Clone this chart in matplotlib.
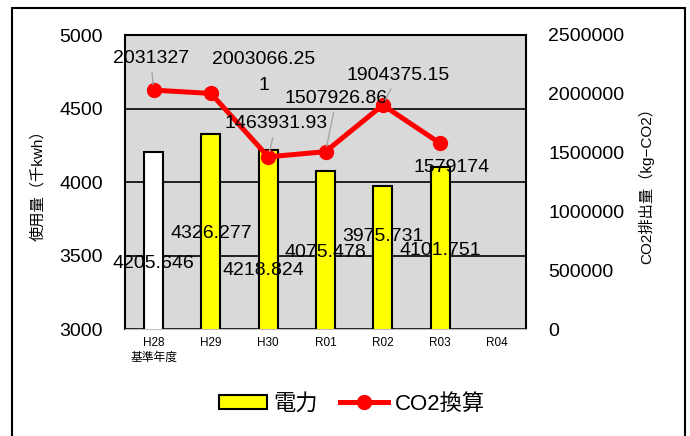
import matplotlib.pyplot as plt
from matplotlib.patches import Rectangle

plt.rcParams['font.family'] = ['Liberation Sans', 'Noto Sans CJK JP']

categories = ['H28\n基準年度', 'H29', 'H30', 'R01', 'R02', 'R03', 'R04']
power = [4205.646, 4326.277, 4218.824, 4075.478, 3975.731, 4101.751]
co2 = [2031327, 2003066.251, 1463931.93, 1507926.86, 1904375.15, 1579174]
power_labels = ['4205.646', '4326.277', '4218.824', '4075.478', '3975.731', '4101.751']
co2_labels = ['2031327', '2003066.25\n1', '1463931.93', '1507926.86', '1904375.15', '1579174']
bar_colors = ['white', 'yellow', 'yellow', 'yellow', 'yellow', 'yellow']

# label offsets in pixels (dx, dy) relative to the mark
power_off = [(0, -112), (0, -99), (-5, -121), (0, -82), (0, -51), (0, -83)]
co2_off = [(-3, 32), (53, 21), (8, 33), (11, 53), (15, 30), (11, -24)]
co2_leader = [True, False, True, True, True, False]

fig = plt.figure(figsize=(6.9, 4.36), dpi=100)
fig.patches.append(Rectangle((12/690, -0.05), 673/690, 1.05 - 8/436,
                             transform=fig.transFigure, fill=False,
                             edgecolor='black', lw=1.5))

ax = fig.add_axes([125/690, 107/436, 401/690, 294/436])
ax.set_facecolor('#D9D9D9')
x = list(range(len(categories)))
ax.bar(x[:len(power)], power, width=0.33, color=bar_colors,
       edgecolor='black', linewidth=1.5, zorder=3, label='電力')
ax.set_ylim(3000, 5000)
ax.set_xlim(-0.5, len(categories) - 0.5)
ax.set_yticks([3000, 3500, 4000, 4500, 5000])
ax.yaxis.grid(True, color='black', lw=1.2, zorder=0)
ax.set_axisbelow(True)
ax.set_xticks(x)
ax.set_xticklabels(categories, fontsize=8.5, linespacing=1.3)
ax.tick_params(axis='y', length=0, pad=16, labelsize=14)
ax.tick_params(axis='x', length=0, pad=6)
ax.set_ylabel('使用量（千kwh）', fontsize=11, labelpad=10)
for s in ['left', 'top', 'right']:
    ax.spines[s].set_color('black')
    ax.spines[s].set_linewidth(1.5)
ax.spines['bottom'].set_color('#BFBFBF')

ax2 = ax.twinx()
ax2.plot(x[:len(co2)], co2, color='red', lw=3.6, marker='o', markersize=10,
         zorder=5, label='CO2換算')
ax2.set_ylim(0, 2500000)
ax2.set_yticks([0, 500000, 1000000, 1500000, 2000000, 2500000])
ax2.set_yticklabels(['0', '500000', '1000000', '1500000', '2000000', '2500000'])
ax2.tick_params(axis='y', length=0, pad=16, labelsize=14)
ax2.set_ylabel('CO2排出量（kg−CO2）', fontsize=11, labelpad=10)
for s in ax2.spines.values():
    s.set_visible(False)

for i, v in enumerate(power):
    ax.annotate(power_labels[i], (x[i], v), xytext=power_off[i],
                textcoords='offset pixels', ha='center', va='center',
                fontsize=14, zorder=6)

for i, v in enumerate(co2):
    props = dict(arrowstyle='-', color='#A6A6A6', lw=1,
                 shrinkA=2, shrinkB=4) if co2_leader[i] else None
    ax2.annotate(co2_labels[i], (x[i], v), xytext=co2_off[i],
                 textcoords='offset pixels', ha='center', va='center',
                 fontsize=14, linespacing=1.75, arrowprops=props, zorder=6)

h1, l1 = ax.get_legend_handles_labels()
h2, l2 = ax2.get_legend_handles_labels()
leg = fig.legend(h1 + h2, l1 + l2, loc='center',
                 bbox_to_anchor=(352/690, 1 - 404/436), ncol=2, frameon=False,
                 fontsize=16, handlelength=2.16, handleheight=0.6,
                 columnspacing=1.0, handletextpad=0.3)
leg.legend_handles[0].set_facecolor('yellow')

fig.savefig('out.png', dpi=100)
